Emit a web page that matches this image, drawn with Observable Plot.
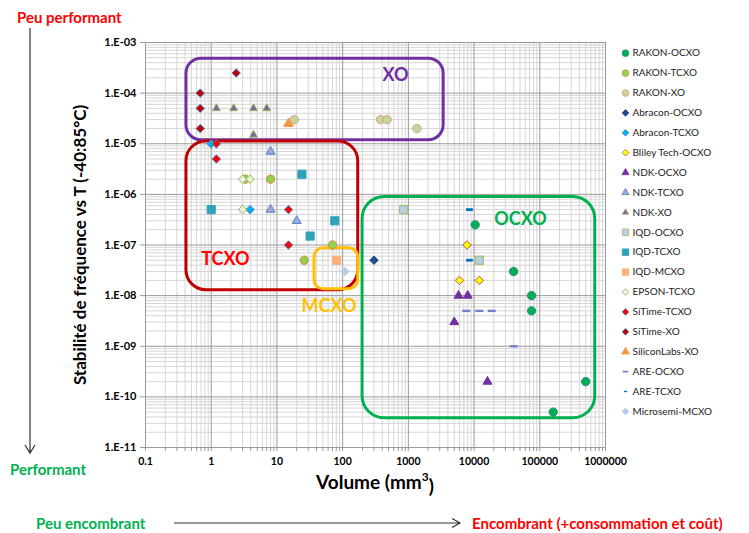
<!DOCTYPE html>
<html><head><meta charset="utf-8">
<script src="https://cdn.jsdelivr.net/npm/d3@7"></script>
<script src="https://cdn.jsdelivr.net/npm/@observablehq/plot@0.6"></script>
<style>
html,body{margin:0;padding:0;background:#fff;}
#wrap{position:relative;width:749px;height:533px;font-family:Lato,"Open Sans",sans-serif;overflow:hidden;}
#wrap svg{position:absolute;left:0;top:0;}
</style></head><body><div id="wrap"></div>
<script>
// ---------- data ----------
const seriesNames = ["RAKON-OCXO","RAKON-TCXO","RAKON-XO","Abracon-OCXO","Abracon-TCXO","Bliley Tech-OCXO","NDK-OCXO","NDK-TCXO","NDK-XO","IQD-OCXO","IQD-TCXO","IQD-MCXO","EPSON-TCXO","SiTime-TCXO","SiTime-XO","SiliconLabs-XO","ARE-OCXO","ARE-TCXO","Microsemi-MCXO"];
const seriesFill   = ["#00B050","#92D050","#C4D79B","#1F4E8C","#00B0F0","#FFFF00","#7030A0","#A3A8DC","#8064A2","#B9CDE5","#31A2B8","#FAB07E","#EAF1DD","#FF0000","#C00000","#F79646","#6F83C8","#0070C0","#B9CDE5"];
const seriesStroke = ["#2E8B8B","#E08A3C","#E3998A","#1F4E8C","#4F81BD","#C0504D","#7030A0","#4F81BD","#9BBB59","#9BBB59","#31A2B8","#FAB07E","#9BBB59","#4F81BD","#4F81BD","#F79646","#6F83C8","#0070C0","#B9CDE5"];
const seriesSymbol = ["circle","circle","circle","diamond2","diamond2","diamond2","triangle","triangle","triangle","square","square","square","diamond2","diamond2","diamond2","triangle","dashLong","dashShort","diamond2"];
const seriesR      = [4.2,4.2,4.2,3.8,3.8,3.8,3.3,3.3,3.0,4.6,4.6,4.6,3.8,3.8,3.8,3.6,4,4,3.8];

const pointSeries = [
  "RAKON-OCXO","RAKON-OCXO","RAKON-OCXO","RAKON-OCXO","RAKON-OCXO","RAKON-OCXO",
  "RAKON-TCXO","RAKON-TCXO","RAKON-TCXO","RAKON-TCXO",
  "RAKON-XO","RAKON-XO","RAKON-XO","RAKON-XO",
  "Abracon-OCXO",
  "Abracon-TCXO","Abracon-TCXO",
  "Bliley Tech-OCXO","Bliley Tech-OCXO","Bliley Tech-OCXO",
  "NDK-OCXO","NDK-OCXO","NDK-OCXO","NDK-OCXO",
  "NDK-TCXO","NDK-TCXO","NDK-TCXO",
  "NDK-XO","NDK-XO","NDK-XO","NDK-XO","NDK-XO",
  "IQD-OCXO","IQD-OCXO",
  "IQD-TCXO","IQD-TCXO","IQD-TCXO","IQD-TCXO",
  "IQD-MCXO",
  "EPSON-TCXO","EPSON-TCXO","EPSON-TCXO",
  "SiTime-TCXO","SiTime-TCXO","SiTime-TCXO","SiTime-TCXO",
  "SiTime-XO","SiTime-XO","SiTime-XO","SiTime-XO",
  "SiliconLabs-XO",
  "ARE-OCXO","ARE-OCXO","ARE-OCXO","ARE-OCXO",
  "ARE-TCXO","ARE-TCXO",
  "Microsemi-MCXO"
];
const pointVolume = [
  10400,40000,75000,75000,160000,500000,
  3.3,8,26,70,
  18.4,377,475,1350,
  300,
  1.0,3.9,
  7800,6000,12000,
  5800,8000,5000,16000,
  8,8,20,
  1.2,2.2,4.4,7,4.4,
  850,12000,
  24,1,76,32,
  81,
  3.0,3.9,3.0,
  1.2,1.2,15,15,
  2.4,0.68,0.68,0.68,
  15,
  7600,12000,18600,40000,
  8500,8500,
  108
];
const pointStability = [
  2.5e-7,3e-8,1e-8,5e-9,5e-11,2e-10,
  2e-6,2e-6,5e-8,1e-7,
  3e-5,3e-5,3e-5,2e-5,
  5e-8,
  1e-5,5e-7,
  1e-7,2e-8,2e-8,
  1e-8,1e-8,3e-9,2e-10,
  7e-6,5e-7,3e-7,
  5e-5,5e-5,5e-5,5e-5,1.5e-5,
  5e-7,5e-8,
  2.5e-6,5e-7,3e-7,1.5e-7,
  5e-8,
  2e-6,2e-6,5e-7,
  1e-5,5e-6,5e-7,1e-7,
  2.5e-4,1e-4,5e-5,2e-5,
  2.5e-5,
  5e-9,5e-9,5e-9,1e-9,
  5e-7,5e-8,
  3e-8
];

const xTicks = [0.1,1,10,100,1000,10000,100000,1000000];
const xTickLabels = ["0.1","1","10","100","1000","10000","100000","1000000"];
const yTicks = [1e-11,1e-10,1e-9,1e-8,1e-7,1e-6,1e-5,1e-4,1e-3];
const yTickLabels = ["1.E-11","1.E-10","1.E-09","1.E-08","1.E-07","1.E-06","1.E-05","1.E-04","1.E-03"];

const boxNames  = ["XO","TCXO","MCXO","OCXO"];
const boxX1     = [0.42, 0.42, 37.3, 201];
const boxX2     = [3445, 172.6, 172.6, 698000];
const boxY1     = [1.17e-5, 1.28e-8, 1.34e-8, 3.8e-11];
const boxY2     = [4.8e-4, 1.11e-5, 8.65e-8, 8.9e-7];
const boxStroke = ["#7030A0","#C00000","#FFC000","#00B050"];
const boxCorner = [15, 20, 9, 22];
const boxLabelColor = ["#7030A0","#FF0000","#FFC000","#00B050"];
const boxLabelX = [637, 1.64, 62, 50800];
const boxLabelY = [2.23e-4, 5.2e-8, 6.3e-9, 3.2e-7];

// ---------- helpers ----------
const dashLong  = {draw(ctx, size){ const r = Math.sqrt(size/Math.PI); ctx.rect(-r, -r*0.3, 2*r, r*0.6); }};
const dashShort = {draw(ctx, size){ const r = Math.sqrt(size/Math.PI); ctx.rect(-r*0.85, -r*0.35, 1.7*r, r*0.7); }};
const symOf = s => s === "dashLong" ? dashLong : s === "dashShort" ? dashShort : s;

const points = pointSeries.map((s,i) => ({series:s, volume:pointVolume[i], stability:pointStability[i]}));
const boxes = boxNames.map((n,i) => ({name:n, x1:boxX1[i], x2:boxX2[i], y1:boxY1[i], y2:boxY2[i], stroke:boxStroke[i], color:boxLabelColor[i], lx:boxLabelX[i], ly:boxLabelY[i]}));

const minorX = [], minorY = [];
for (let e = -1; e < 6; e++) for (let k = 2; k < 10; k++) minorX.push(k * Math.pow(10, e));
for (let e = -11; e < -3; e++) for (let k = 2; k < 10; k++) minorY.push(k * Math.pow(10, e));
const xLab = new Map(xTicks.map((t,i)=>[t,xTickLabels[i]]));
const yLab = new Map(yTicks.map((t,i)=>[t,yTickLabels[i]]));

const dotMarks = seriesNames.map((name,i) => Plot.dot(points.filter(p => p.series === name), {
  x:"volume", y:"stability",
  symbol: symOf(seriesSymbol[i]), r: seriesR[i],
  fill: seriesFill[i],
  stroke: seriesSymbol[i].startsWith("dash") ? "none" : seriesStroke[i],
  strokeWidth: 1
}));
const boxMarks = boxes.map((b,i) => Plot.rect([b], {x1:"x1", x2:"x2", y1:"y1", y2:"y2", stroke: boxStroke[i], fill:"none", strokeWidth:3, rx: boxCorner[i], ry: boxCorner[i]}));

const chart = Plot.plot({
  width: 749, height: 533,
  marginLeft: 145, marginRight: 144, marginTop: 42, marginBottom: 86,
  style: {background:"transparent", fontFamily:"Lato, 'Open Sans', sans-serif", color:"#000"},
  x: {type:"log", domain:[0.1, 1e6]},
  y: {type:"log", domain:[1e-11, 1e-3]},
  marks: [
    Plot.ruleX(minorX, {stroke:"#d6d6d6", strokeWidth:1}),
    Plot.ruleY(minorY, {stroke:"#d6d6d6", strokeWidth:1}),
    Plot.ruleX(xTicks, {stroke:"#9a9a9a", strokeWidth:1}),
    Plot.ruleY(yTicks, {stroke:"#9a9a9a", strokeWidth:1}),
    Plot.axisX({ticks: minorX.concat(xTicks), tickSize: 4, tickFormat: () => "", stroke:"#9a9a9a"}),
    Plot.axisX({ticks: xTicks, tickSize: 0, tickPadding: 10, tickFormat: d => xLab.get(d), fontWeight:"bold", fontSize: 10.5, label: null}),
    Plot.axisY({ticks: yTicks, tickSize: 5, tickPadding: 4, tickFormat: d => yLab.get(d), fontWeight:"bold", fontSize: 11, stroke:"#9a9a9a", label: null}),
    ...boxMarks,
    ...dotMarks,
    Plot.text(boxes, {x:"lx", y:"ly", text:"name", fill:"color", fontWeight:"bold", fontSize:18})
  ]
});
document.getElementById("wrap").appendChild(chart);

// ---------- legend ----------
const legendData = seriesNames.map((n,i)=>({name:n, i}));
const legend = Plot.plot({
  width: 134, height: 400, margin: 0,
  style: {background:"transparent", fontFamily:"Lato, 'Open Sans', sans-serif"},
  x: {domain:[0,1], range:[10,134], axis:null},
  y: {type:"linear", domain:[0, seriesNames.length - 1], range:[10.7, 10.7 + 18*19.9], axis:null},
  marks: legendData.map((d,i)=> Plot.dot([d], {
      x: () => 0, y: "i",
      symbol: symOf(seriesSymbol[i]),
      r: seriesSymbol[i] === "dashLong" ? 2.8 : seriesSymbol[i] === "dashShort" ? 1.9 : seriesR[i]*0.8,
      fill: seriesFill[i],
      stroke: seriesSymbol[i].startsWith("dash") ? "none" : seriesStroke[i], strokeWidth: 0.8
    })).concat([
    Plot.text(legendData, {x: () => 0, y:"i", text:"name", dx: 7, textAnchor:"start", fontSize: 10, fill:"#222"})
  ])
});
legend.style.left = "615px"; legend.style.top = "42px";
document.getElementById("wrap").appendChild(legend);

// ---------- annotations ----------
const svg = d3.select("#wrap").append("svg").attr("width",749).attr("height",533)
  .style("font-family","Lato, 'Open Sans', sans-serif").style("pointer-events","none");
svg.append("text").attr("x",17).attr("y",18).attr("dy","0.35em").attr("fill","#FF0000")
  .attr("font-weight","bold").attr("font-size",15).text("Peu performant");
svg.append("text").attr("x",10).attr("y",470).attr("dy","0.35em").attr("fill","#00B050")
  .attr("font-weight","bold").attr("font-size",15).text("Performant");
svg.append("text").attr("x",36).attr("y",524).attr("dy","0.35em").attr("fill","#00B050")
  .attr("font-weight","bold").attr("font-size",15).text("Peu encombrant");
svg.append("text").attr("x",472).attr("y",524).attr("dy","0.35em").attr("fill","#FF0000")
  .attr("font-weight","bold").attr("font-size",15).text("Encombrant (+consommation et coût)");
svg.append("path").attr("d","M30,28V453M25,445L30,453L35,445").attr("stroke","#333").attr("fill","none").attr("stroke-width",1.2);
svg.append("path").attr("d","M174,523H460M452,518.5L460,523L452,527.5").attr("stroke","#333").attr("fill","none").attr("stroke-width",1.2);
svg.append("text").attr("transform","translate(80,245) rotate(-90)").attr("text-anchor","middle").attr("dy","0.35em")
  .attr("font-weight","bold").attr("font-size",17).attr("fill","#000").text("Stabilité de fréquence vs T (-40:85°C)");
const xt = svg.append("text").attr("x",375).attr("y",482).attr("text-anchor","middle").attr("dy","0.35em")
  .attr("font-weight","bold").attr("font-size",19).attr("fill","#000");
xt.append("tspan").text("Volume (mm");
xt.append("tspan").attr("font-size",12).attr("dy","-0.6em").text("3");
xt.append("tspan").attr("dy","0.6em").attr("font-size",19).text(")");
</script></body></html>
